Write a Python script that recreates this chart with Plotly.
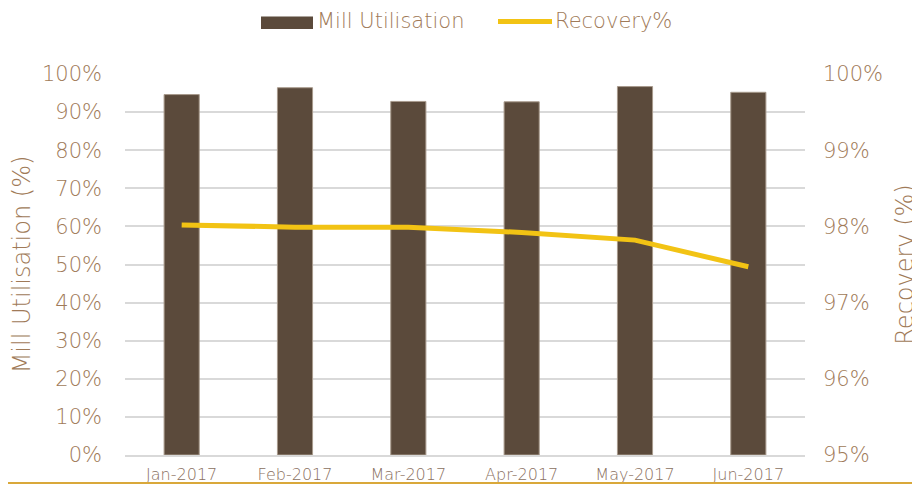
import plotly.graph_objects as go

months = ["Jan-2017", "Feb-2017", "Mar-2017", "Apr-2017", "May-2017", "Jun-2017"]
mill_utilisation = [0.946, 0.964, 0.928, 0.927, 0.967, 0.952]
recovery = [0.9802, 0.9799, 0.9799, 0.9792, 0.9782, 0.9747]

left_ticks = [i / 10 for i in range(11)]
right_ticks = [0.95, 0.96, 0.97, 0.98, 0.99, 1.0]

txt = "#a07a58"
FONT = "DejaVu Sans"
W = 200
bar_color = "#5b4a3b"
line_color = "#f2c314"

fig = go.Figure()
fig.add_trace(go.Bar(x=months, y=mill_utilisation, name="Mill Utilisation",
                     marker=dict(color=bar_color, line=dict(color="#a89a8c", width=1)),
                     yaxis="y", showlegend=False))
fig.add_trace(go.Scatter(x=months, y=recovery, name="Recovery%", mode="lines",
                         line=dict(color=line_color, width=5), yaxis="y2",
                         showlegend=False))

# page body has an 8px margin, so the figure is sized/offset to compensate
fig.update_layout(
    width=912, height=476,
    margin=dict(l=117, r=115, t=66, b=29),
    paper_bgcolor="white", plot_bgcolor="white",
    font=dict(family=FONT, color=txt, weight=W),
    bargap=0.69,
    xaxis=dict(tickfont=dict(size=16, color="#8a7060", weight=W), showgrid=False,
               showline=True, linecolor="#d9d9d9", linewidth=2, ticks="",
               ticklabelstandoff=4, automargin=False),
    yaxis=dict(range=[0, 1.0], tickvals=left_ticks, tickformat=".0%",
               tickfont=dict(size=21, color=txt, weight=W), showgrid=True,
               gridcolor="#d9d9d9", gridwidth=2, zeroline=False,
               ticklabelstandoff=22, automargin=False,
               title=dict(text="Mill Utilisation (%)",
                          font=dict(size=24, color=txt, weight=W), standoff=12)),
    yaxis2=dict(range=[0.95, 1.0], tickvals=right_ticks, tickformat=".0%",
                overlaying="y", side="right", showgrid=False, zeroline=False,
                tickfont=dict(size=21, color=txt, weight=W), ticklabelstandoff=17,
                automargin=False,
                title=dict(text="Recovery (%)", font=dict(size=24, color=txt, weight=W),
                           standoff=14)),
)

# manual legend (wide swatches like the original)
fig.add_shape(type="rect", xref="paper", yref="paper",
              x0=(261 - 125) / 680, x1=(313 - 125) / 680,
              y0=(455 - 29) / 381, y1=(455 - 16.5) / 381,
              fillcolor=bar_color, line=dict(width=0))
fig.add_annotation(xref="paper", yref="paper", x=(315 - 125) / 680,
                   y=(455 - 21) / 381, xanchor="left", yanchor="middle",
                   text="Mill Utilisation", showarrow=False,
                   font=dict(size=21, color=txt, weight=W))
fig.add_shape(type="line", xref="paper", yref="paper",
              x0=(498 - 125) / 680, x1=(552 - 125) / 680,
              y0=(455 - 21.5) / 381, y1=(455 - 21.5) / 381,
              line=dict(color=line_color, width=5))
fig.add_annotation(xref="paper", yref="paper", x=(553 - 125) / 680,
                   y=(455 - 21) / 381, xanchor="left", yanchor="middle",
                   text="Recovery%", showarrow=False,
                   font=dict(size=21, color=txt, weight=W))

fig.add_shape(type="line", xref="paper", yref="paper", x0=-0.2, x1=1.2,
              y0=-28 / 381, y1=-28 / 381, line=dict(color="#d9a83a", width=2))

fig.write_html("out.html")
